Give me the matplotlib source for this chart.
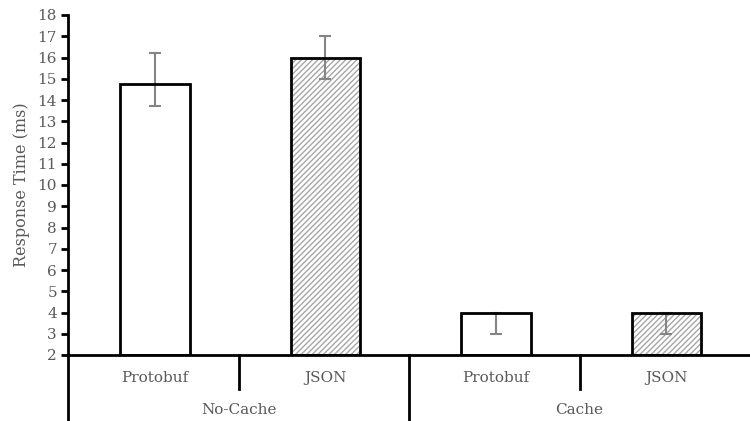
import numpy as np
import matplotlib.pyplot as plt
from matplotlib.lines import Line2D

formats = ['Protobuf', 'JSON', 'Protobuf', 'JSON']
groups = ['No-Cache', 'Cache']
response_ms = [14.75, 16.0, 4.0, 4.0]
err_low = [1.05, 1.0, 1.0, 1.0]
err_high = [1.45, 1.0, 0.0, 0.0]
hatches = ['', '//////', '', '//////']

plt.rcParams['font.family'] = ['DejaVu Serif']
plt.rcParams['hatch.linewidth'] = 1.0
txt = '#595959'

fig = plt.figure(figsize=(7.5, 4.21), dpi=100)
ax = fig.add_axes([68/750, 66/421, 682/750, 340/421])

x = np.arange(len(formats)) + 0.01
bottom = 2
heights = [v - bottom for v in response_ms]
# fill + hatch first, error bars over it, then the black outline on top
ax.bar(x, heights, bottom=bottom, width=0.41, color='white',
       edgecolor='#a6a6a6', linewidth=0, hatch=hatches, zorder=2)
ax.errorbar(x, response_ms, yerr=[err_low, err_high], fmt='none',
            ecolor='#858585', elinewidth=1.5, capsize=4.5, capthick=1.5, zorder=3)
ax.bar(x, heights, bottom=bottom, width=0.41, fill=False,
       edgecolor='black', linewidth=2, zorder=4)

ax.set_xlim(-0.5, 3.5)
ax.set_ylim(2, 18)
ax.set_yticks(range(2, 19))
ax.set_xticks([])
ax.tick_params(axis='y', direction='out', length=5, width=2, labelsize=11,
               labelcolor=txt, pad=3)
for s in ['top', 'right']:
    ax.spines[s].set_visible(False)
for s in ['left', 'bottom']:
    ax.spines[s].set_linewidth(2)
ax.set_ylabel('Response Time (ms)', color=txt, fontsize=11.5, labelpad=5)

# two-level category axis
tr = ax.get_xaxis_transform()
for xi, name in zip(x, formats):
    ax.text(xi, -0.068, name, transform=tr, ha='center', va='center',
            fontsize=11, color=txt)
for gi, name in enumerate(groups):
    ax.text(gi * 2 + 0.5, -0.162, name, transform=tr, ha='center',
            va='center', fontsize=11, color=txt)
for xs, depth in [(-0.5, -0.19), (0.5, -0.1), (1.5, -0.19), (2.5, -0.1)]:
    ax.add_line(Line2D([xs, xs], [0, depth], transform=tr, color='black',
                       linewidth=2, clip_on=False))

fig.savefig('out.png', dpi=100)
